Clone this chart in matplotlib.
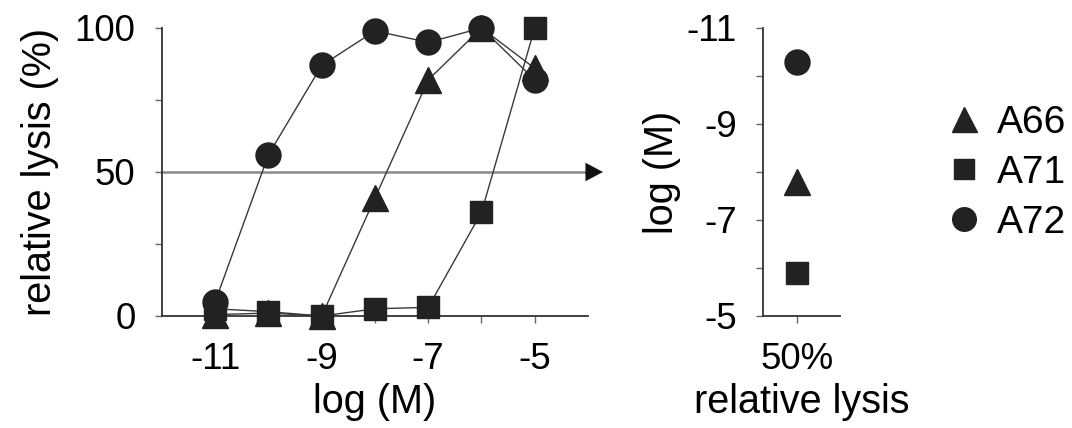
import matplotlib
matplotlib.use("Agg")
import matplotlib.pyplot as plt
from matplotlib.lines import Line2D

plt.rcParams['font.family'] = ['Liberation Sans', 'DejaVu Sans']
plt.rcParams['axes.unicode_minus'] = False

# Data
log_conc = [-11, -10, -9, -8, -7, -6, -5]
series_names = ["A66", "A71", "A72"]
a66_lysis = [0.5, 1.0, 0.0, 41, 82, 100, 86]
a71_lysis = [2.5, 1.5, 0.0, 2.5, 3.0, 36, 100]
a72_lysis = [5.0, 56, 87, 99, 95, 100, 82]
ec50_logM = [-7.8, -5.9, -10.3]   # A66, A71, A72
half_level = 50

markers = {"A66": "^", "A71": "s", "A72": "o"}
msizes = {"A66": 19, "A71": 16, "A72": 18}
mcol = "#222222"
lcol = "#3a3a3a"
spine_col = "#333333"

TICK_FS = 26.5
LABEL_FS = 28.5
LEG_FS = 28

fig = plt.figure(figsize=(10.72, 4.28), dpi=100)
ax1 = fig.add_axes([0.1511, 0.2617, 0.3974, 0.6729])
ax2 = fig.add_axes([0.7118, 0.2617, 0.0718, 0.6729])

series = {"A66": a66_lysis, "A71": a71_lysis, "A72": a72_lysis}
for name in ["A72", "A66", "A71"]:
    ax1.plot(log_conc, series[name], color=lcol, lw=1.0, marker=markers[name],
             ms=msizes[name], mfc=mcol, mec=mcol, clip_on=False, zorder=3)

ax1.set_xlim(-12, -4)
ax1.set_ylim(0, 100)
ax1.set_xticks([-11, -9, -7, -5])
ax1.set_xticks([-10, -8, -6], minor=True)
ax1.set_yticks([0, 50, 100])
ax1.set_yticks([25, 75], minor=True)

# 50% arrow line
ax1.plot([-12, -3.95], [half_level, half_level], color="#8a8a8a", lw=1.8,
         clip_on=False, zorder=1)
ax1.annotate("", xy=(-3.72, half_level), xytext=(-4.1, half_level),
             xycoords='data', textcoords='data', annotation_clip=False,
             arrowprops=dict(arrowstyle='-|>,head_length=0.62,head_width=0.33',
                             lw=0.1, mutation_scale=20, shrinkA=0, shrinkB=0,
                             fc="#111111", ec="#111111"),
             zorder=2)

ax1.set_xlabel("log (M)", fontsize=LABEL_FS, labelpad=4)
ax1.set_ylabel("relative lysis (%)", fontsize=LABEL_FS, labelpad=11)

# Right panel
for name, val in zip(series_names, ec50_logM):
    ax2.plot([0], [val], linestyle='none', marker=markers[name], ms=msizes[name],
             mfc=mcol, mec=mcol, clip_on=False)
ax2.set_xlim(-1, 1.27)
ax2.set_ylim(-5, -11)
ax2.set_yticks([-11, -9, -7, -5])
ax2.set_yticks([-10, -8, -6], minor=True)
ax2.set_xticks([0])
ax2.set_xticklabels(["50%"])
ax2.set_xlabel("relative lysis", fontsize=LABEL_FS, labelpad=4)
ax2.set_ylabel("log (M)", fontsize=LABEL_FS, labelpad=4)

for ax in (ax1, ax2):
    for s in ("top", "right"):
        ax.spines[s].set_visible(False)
    for s in ("left", "bottom"):
        ax.spines[s].set_color(spine_col)
        ax.spines[s].set_linewidth(1.3)
    ax.tick_params(which='both', direction='out', length=5, width=1.0,
                   color="#666666", labelsize=TICK_FS, pad=14)

# Legend
handles = [Line2D([], [], linestyle='none', marker=markers[n], ms=msizes[n] - 1,
                  mfc=mcol, mec=mcol) for n in series_names]
fig.legend(handles, series_names, loc='center left', bbox_to_anchor=(0.881, 0.596),
           frameon=False, fontsize=LEG_FS, handlelength=1.0, handletextpad=0.35,
           labelspacing=0.36, borderaxespad=0, borderpad=0)

fig.savefig("out.png", dpi=100)
